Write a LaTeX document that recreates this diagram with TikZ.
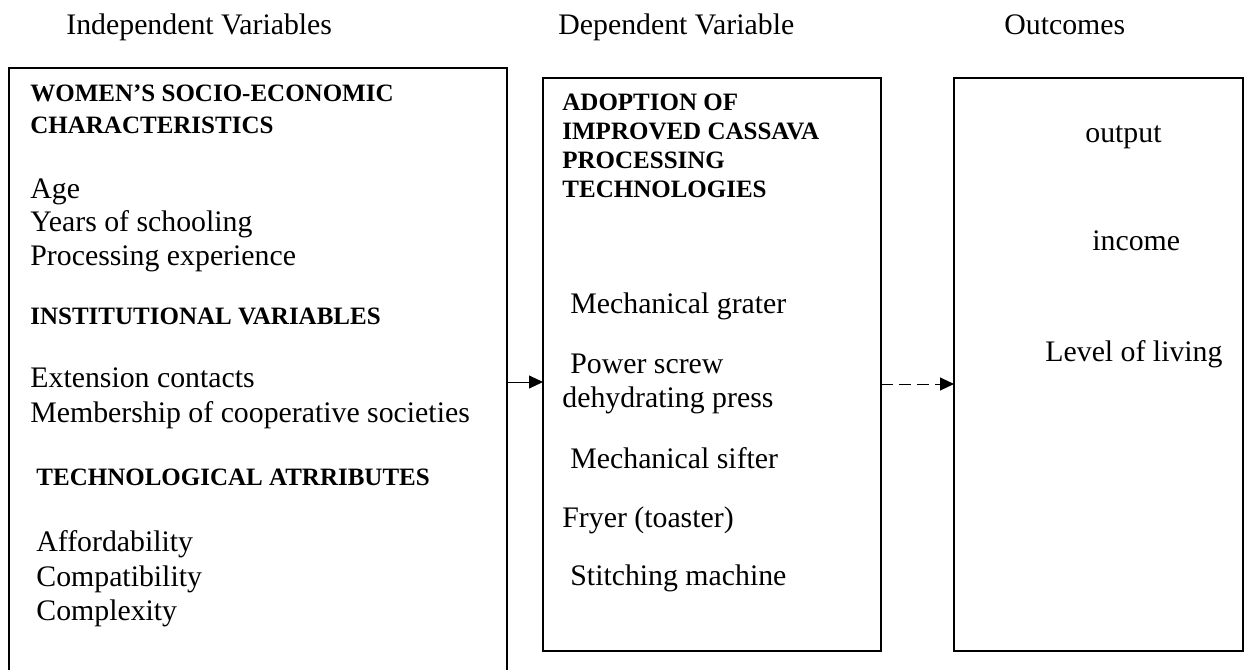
\documentclass[tikz,border=0pt]{standalone}
\usepackage{fontspec}
\setmainfont{Liberation Serif}
\usetikzlibrary{arrows.meta}
\tikzset{
  frame/.style={draw, inner sep=0pt, outer sep=0pt, line width=0.8pt},
  txt/.style={anchor=base west, inner sep=0pt, font=\fontsize{14.9}{17}\selectfont},
  head/.style={anchor=base west, inner sep=0pt, font=\fontsize{12.5}{14}\selectfont\bfseries},
  tip/.style={-{Triangle[length=7pt,width=6.5pt]}, line width=0.5pt}
}
\begin{document}
\begin{tikzpicture}[x=0.5pt, y=-0.5pt]
    \useasboundingbox (0,0) rectangle (1247,669);
    \node[txt] (tindep) at (66,34) {Independent Variables};
    \node[txt] (tdep) at (558,34) {Dependent Variable};
    \node[txt] (tout) at (1004,34) {Outcomes};

    \node[frame, line width=0.6pt, minimum width=249pt, minimum height=302pt] (indep) at (258,370) {};
    \node[frame, minimum width=169pt, minimum height=286.5pt] (dep) at (712,364.5) {};
    \node[frame, minimum width=144.5pt, minimum height=286.5pt] (out) at (1098.5,364.5) {};

    \node[head] (h1) at (30,101) {WOMEN’S SOCIO-ECONOMIC};
    \node[head] (h1b) at (30,133) {CHARACTERISTICS};
    \node[txt] (age) at (30,198) {Age};
    \node[txt] (school) at (30,231) {Years of schooling};
    \node[txt] (exper) at (30,265) {Processing experience};
    \node[head] (h2) at (30,324) {INSTITUTIONAL VARIABLES};
    \node[txt] (ext) at (30,387) {Extension contacts};
    \node[txt] (coop) at (30,422) {Membership of cooperative societies};
    \node[head] (h3) at (36,485) {TECHNOLOGICAL ATRRIBUTES};
    \node[txt] (afford) at (36,551) {Affordability};
    \node[txt] (compat) at (36,586) {Compatibility};
    \node[txt] (complex) at (36,620) {Complexity};

    \node[head] (d1) at (562,110) {ADOPTION OF};
    \node[head] (d2) at (562,139) {IMPROVED CASSAVA};
    \node[head] (d3) at (562,168) {PROCESSING};
    \node[head] (d4) at (562,197) {TECHNOLOGIES};
    \node[txt] (grater) at (570,313) {Mechanical grater};
    \node[txt] (press) at (570,373) {Power screw};
    \node[txt] (pressb) at (562,407) {dehydrating press};
    \node[txt] (sifter) at (570,468) {Mechanical sifter};
    \node[txt] (fryer) at (562,527) {Fryer (toaster)};
    \node[txt] (stitch) at (570,585) {Stitching machine};

    \node[txt] (output) at (1085,142) {output};
    \node[txt] (income) at (1092,250) {income};
    \node[txt] (living) at (1045,361) {Level of living};

    \coordinate (row) at (0,382);
    \coordinate (rowb) at (0,384);
    \draw[tip] (indep.east |- row) -- (dep.west |- row);
    \draw[tip, dash pattern=on 6pt off 3pt] (dep.east |- rowb) -- (out.west |- rowb);
\end{tikzpicture}
\end{document}
